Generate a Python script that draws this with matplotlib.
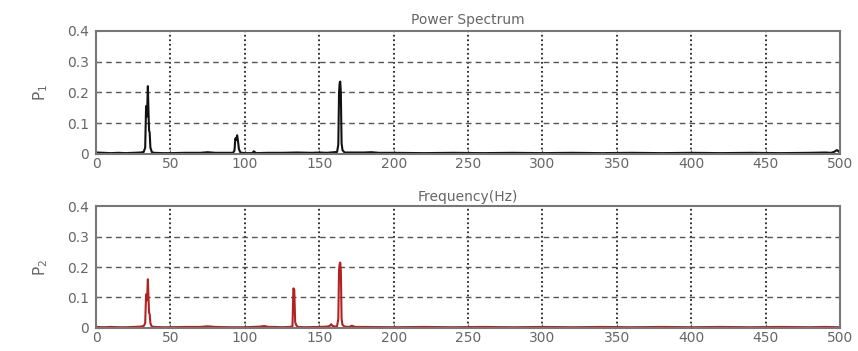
import matplotlib
matplotlib.use("Agg")
from matplotlib import pyplot as plt

# spectrum values (frequency in Hz, power)
freq_1 = [0, 5, 10, 15, 20, 25, 30, 32, 33, 33.6, 34, 34.4, 34.8, 35.2, 35.6, 36, 36.5, 37.5, 39,
          45, 50, 60, 70, 75, 80, 88, 92, 93, 93.6, 94.2, 94.8, 95.4, 96, 97, 100, 105, 106, 107.5,
          115, 125, 135, 145, 150, 155, 160, 162, 162.8, 163.3, 163.7, 164.1, 164.5, 165, 165.6, 167,
          172, 180, 185, 190, 200, 220, 240, 260, 280, 300, 320, 340, 360, 380, 400, 420, 440, 460,
          480, 490, 494, 496, 498, 500]
power_1 = [0.004, 0.003, 0.002, 0.003, 0.002, 0.003, 0.004, 0.006, 0.02, 0.155, 0.12, 0.155, 0.22,
           0.14, 0.075, 0.07, 0.02, 0.005, 0.003, 0.002, 0.002, 0.003, 0.003, 0.005, 0.003, 0.003,
           0.003, 0.01, 0.05, 0.045, 0.06, 0.04, 0.015, 0.004, 0.002, 0.002, 0.008, 0.002, 0.003,
           0.003, 0.004, 0.003, 0.004, 0.003, 0.005, 0.006, 0.03, 0.2, 0.23, 0.235, 0.2, 0.035, 0.012,
           0.004, 0.004, 0.004, 0.005, 0.003, 0.003, 0.002, 0.003, 0.002, 0.003, 0.002, 0.003, 0.002,
           0.003, 0.002, 0.003, 0.002, 0.003, 0.002, 0.003, 0.004, 0.003, 0.006, 0.012, 0.004]

freq_2 = [0, 5, 10, 15, 20, 25, 30, 32, 33, 33.6, 34, 34.4, 34.8, 35.2, 35.6, 36, 36.5, 37.5, 39,
          45, 50, 60, 70, 75, 80, 90, 100, 105, 110, 113, 116, 120, 125, 130, 132, 132.6, 133.2,
          133.8, 134.4, 135.5, 140, 150, 155, 157, 158, 159, 161, 162, 162.8, 163.3, 163.7, 164.1,
          164.5, 165, 165.6, 167, 170, 172, 174, 180, 200, 220, 240, 260, 280, 300, 320, 340, 360,
          380, 400, 420, 440, 460, 480, 490, 500]
power_2 = [0.003, 0.002, 0.003, 0.002, 0.002, 0.003, 0.004, 0.006, 0.015, 0.11, 0.09, 0.11, 0.16,
           0.1, 0.05, 0.045, 0.015, 0.004, 0.003, 0.002, 0.002, 0.003, 0.003, 0.005, 0.003, 0.002,
           0.002, 0.003, 0.004, 0.006, 0.003, 0.003, 0.002, 0.003, 0.005, 0.13, 0.125, 0.02, 0.01,
           0.003, 0.002, 0.003, 0.004, 0.006, 0.012, 0.006, 0.004, 0.006, 0.03, 0.19, 0.21, 0.215,
           0.19, 0.03, 0.01, 0.004, 0.003, 0.007, 0.003, 0.003, 0.002, 0.003, 0.002, 0.003, 0.002,
           0.003, 0.002, 0.003, 0.002, 0.003, 0.002, 0.003, 0.002, 0.003, 0.002, 0.003, 0.002]

x_ticks = [0, 50, 100, 150, 200, 250, 300, 350, 400, 450, 500]
y_ticks = [0, 0.1, 0.2, 0.3, 0.4]
y_tick_labels = ['0', '0.1', '0.2', '0.3', '0.4']

plt.rcParams['font.family'] = ['DejaVu Sans']
text_col = '#666666'

fig = plt.figure(figsize=(8.58, 3.51), dpi=100)
ax1 = fig.add_axes([0.112, 0.562, 0.867, 0.350])
ax2 = fig.add_axes([0.112, 0.066, 0.867, 0.346])

series = [(ax1, freq_1, power_1, '#111111', 'P$_1$'),
          (ax2, freq_2, power_2, '#b22222', 'P$_2$')]

for ax, f, p, col, lab in series:
    ax.plot(f, p, color=col, linewidth=1.5)
    ax.set_xlim(0, 500)
    ax.set_ylim(0, 0.4)
    ax.set_xticks(x_ticks)
    ax.set_yticks(y_ticks)
    ax.set_yticklabels(y_tick_labels)
    ax.tick_params(direction='in', length=3, colors=text_col, labelsize=10)
    ax.tick_params(axis='y', pad=5)
    ax.tick_params(axis='x', pad=2)
    for sp in ax.spines.values():
        sp.set_color('#777777')
        sp.set_linewidth(1.5)
    for xt in x_ticks[1:-1]:
        ax.axvline(xt, color='#222222', linestyle=(0, (1, 1.5)), linewidth=1.3, zorder=0)
    for yt in y_ticks[1:-1]:
        ax.axhline(yt, color='#555555', linestyle=(0, (4, 3)), linewidth=1.0, zorder=0)
    ax.set_ylabel(lab, color=text_col, fontsize=11, labelpad=12)

ax1.set_title('Power Spectrum', color=text_col, fontsize=10, pad=5)
ax2.set_title('Frequency(Hz)', color=text_col, fontsize=10, pad=4)

plt.savefig('out.png', dpi=100)
plt.close()
